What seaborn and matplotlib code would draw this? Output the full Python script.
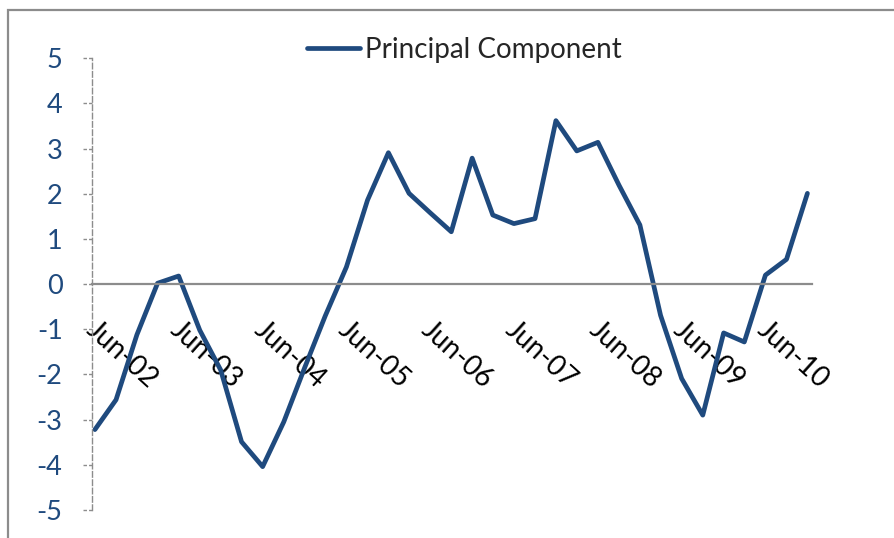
import matplotlib
matplotlib.use("Agg")
import matplotlib.pyplot as plt
import matplotlib.transforms as mtransforms
from matplotlib.patches import Rectangle
import numpy as np
import pandas as pd
import seaborn as sns

# Quarterly observations, June 2002 to December 2010
quarter_labels = [
    "Jun-02", "Sep-02", "Dec-02", "Mar-03", "Jun-03", "Sep-03", "Dec-03",
    "Mar-04", "Jun-04", "Sep-04", "Dec-04", "Mar-05", "Jun-05", "Sep-05",
    "Dec-05", "Mar-06", "Jun-06", "Sep-06", "Dec-06", "Mar-07", "Jun-07",
    "Sep-07", "Dec-07", "Mar-08", "Jun-08", "Sep-08", "Dec-08", "Mar-09",
    "Jun-09", "Sep-09", "Dec-09", "Mar-10", "Jun-10", "Sep-10", "Dec-10",
]
principal_component = [
    -3.22, -2.56, -1.12, 0.02, 0.18, -1.02, -1.90,
    -3.49, -4.04, -3.05, -1.85, -0.70, 0.38, 1.86,
    2.91, 2.01, 1.58, 1.16, 2.79, 1.53, 1.34,
    1.45, 3.62, 2.95, 3.14, 2.19, 1.31, -0.69,
    -2.09, -2.90, -1.08, -1.28, 0.20, 0.55, 2.01,
]
tick_labels = ["Jun-02", "Jun-03", "Jun-04", "Jun-05", "Jun-06",
               "Jun-07", "Jun-08", "Jun-09", "Jun-10"]
y_ticks = [5, 4, 3, 2, 1, 0, -1, -2, -3, -4, -5]

LINE_BLUE = "#1F4A7E"
GREY = "#8C8C8C"

# each quarter is plotted mid-month
dates = pd.to_datetime(quarter_labels, format="%b-%y") + pd.Timedelta(days=14)
df = pd.DataFrame({"date": dates, "value": principal_component})
tick_dates = pd.to_datetime(tick_labels, format="%b-%y")

sns.set_style("white")
plt.rcParams["font.family"] = ["Lato", "DejaVu Sans"]

W, H = 895, 538
fig = plt.figure(figsize=(W / 100, H / 100), dpi=100)
left, right, top, bottom = 91.7, 812, 58.3, 510
ax = fig.add_axes([left / W, 1 - bottom / H, (right - left) / W, (bottom - top) / H])

sns.lineplot(data=df, x="date", y="value", ax=ax, color=LINE_BLUE,
             linewidth=3.4, label="Principal Component")

ax.set_ylim(-5, 5)
ax.set_xlim(pd.Timestamp("2002-06-01"), pd.Timestamp("2011-01-04"))
ax.set_xlabel("")
ax.set_ylabel("")

# axes: dashed value axis on the left, category axis along zero
for side in ("top", "right"):
    ax.spines[side].set_visible(False)
ax.spines["left"].set_color(GREY)
ax.spines["left"].set_linewidth(1.0)
ax.spines["left"].set_linestyle((0, (4, 2)))
ax.spines["bottom"].set_position(("data", 0))
ax.spines["bottom"].set_color(GREY)
ax.spines["bottom"].set_linewidth(1.6)

ax.set_yticks(y_ticks)
ax.set_yticklabels([str(v) for v in y_ticks])
ax.tick_params(axis="y", length=0, pad=21, labelsize=19.5, labelcolor=LINE_BLUE)
ax.hlines(y_ticks, -0.0125, 0, transform=ax.get_yaxis_transform(),
          colors=GREY, linewidth=1.0, linestyles=(0, (2.5, 1.5)), clip_on=False)

ax.set_xticks(tick_dates)
ax.set_xticklabels(tick_labels)
ax.tick_params(axis="x", direction="out", length=7.2, width=1.4, color=GREY,
               pad=16, labelsize=20, labelcolor="black")
shift = mtransforms.ScaledTranslation(7 / 100, 0, fig.dpi_scale_trans)
for lbl in ax.get_xticklabels():
    lbl.set_rotation(-42)
    lbl.set_rotation_mode("anchor")
    lbl.set_ha("left")
    lbl.set_va("top")
    lbl.set_transform(lbl.get_transform() + shift)

ax.grid(False)

leg = ax.legend(loc="center left", bbox_to_anchor=(307 / W, 1 - 50 / H),
                bbox_transform=fig.transFigure, frameon=False, borderpad=0,
                borderaxespad=0, handlelength=1.9, handletextpad=0.18,
                fontsize=20)
for line in leg.get_lines():
    line.set_linewidth(3.4)
    line.set_solid_capstyle("round")

# outer chart-area border
fig.patches.append(Rectangle((8.3 / W, -0.1), 2, 1 - 10 / H + 0.1,
                             transform=fig.transFigure, fill=False,
                             edgecolor=GREY, linewidth=1.6))

fig.savefig("out.png", dpi=100)
